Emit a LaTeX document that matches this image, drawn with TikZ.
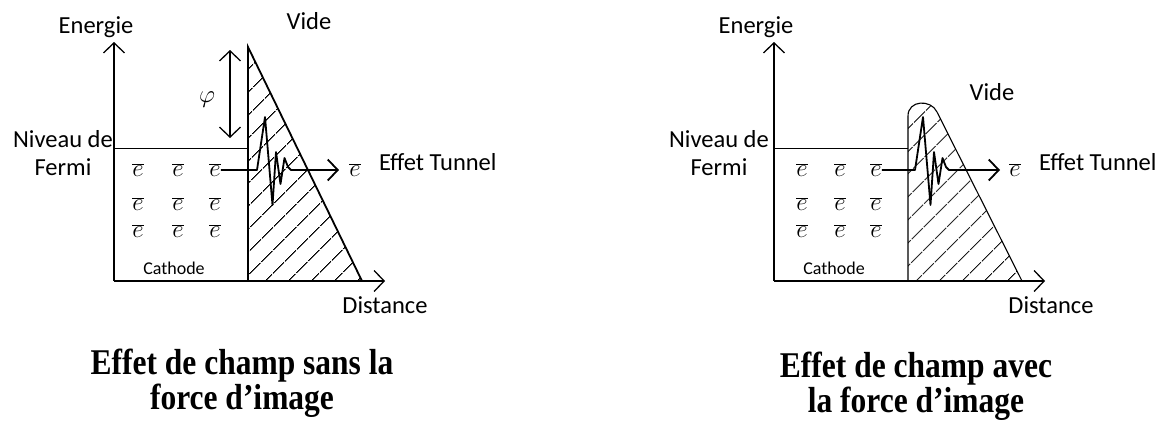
\documentclass[tikz,border=0pt]{standalone}
\usepackage{fontspec}
\setmainfont{Carlito}
\newfontfamily\titrefont{Liberation Serif}
\usepackage{graphicx}
\usepackage{tikz}
\usetikzlibrary{positioning,arrows.meta,patterns.meta}

\tikzset{
	axe/.style={line width=1.3pt,-{Straight Barb[length=10pt,width=21pt]}},
	phi/.style={line width=1.3pt,{Straight Barb[length=10pt,width=21pt]}-{Straight Barb[length=10pt,width=21pt]}},
	tunnel/.style={line width=1.8pt,line join=round,-{Straight Barb[length=10pt,width=21pt]}},
	fermi/.style={line width=0.9pt},
	hachures/.style={pattern={Lines[angle=45,distance=17pt,line width=1.2pt]}},
	txt/.style={font=\fontsize{24.5}{28.5}\selectfont,inner sep=0pt},
	cath/.style={font=\fontsize{18}{21}\selectfont,inner sep=0pt},
	el/.style={font=\fontsize{25}{28}\selectfont,inner sep=0pt},
	titre/.style={font=\titrefont\bfseries\fontsize{31.5}{35}\selectfont,inner sep=0pt,anchor=base},
}

\begin{document}
\begin{tikzpicture}[x=1pt,y=-1pt]
	\useasboundingbox (0,0) rectangle (1173,421);
	%% fig a : sans force d'image
	\coordinate (o1) at (114,281);
	\coordinate (y1) at (114,42);
	\coordinate (x1) at (385,281);
	\coordinate (fl1) at (114,148);
	\coordinate (f1) at (248,148);
	\coordinate (w1) at (248,47);
	\coordinate (b1) at (248,281);
	\coordinate (t1) at (362,281);
	\coordinate (p1a) at (230,50);
	\coordinate (p1b) at (230,138);
	\coordinate (z1) at (257,170);
	\coordinate (s1) at (339,170);
	% barriere triangulaire
	\fill[hachures] (w1) -- (t1) -- (b1) -- cycle;
	\draw[line width=1.8pt] (b1) -- (w1) -- (t1);
	\draw[fermi] (fl1) -- (f1);
	\draw[axe] (o1) -- (y1);
	\draw[axe] (o1) -- (x1);
	\draw[phi] (p1a) -- (p1b);
	\node[el,font=\fontsize{29}{32}\selectfont] (ph1) at (207,100) {$\varphi$};
	% electrons
	\node[el] (e11) at (138,170) {$\overline{e}$};
	\node[el] (e12) at (178,170) {$\overline{e}$};
	\node[el] (e13) at (215,170) {$\overline{e}$};
	\node[el] (e21) at (138,204) {$\overline{e}$};
	\node[el] (e22) at (178,204) {$\overline{e}$};
	\node[el] (e23) at (215,204) {$\overline{e}$};
	\node[el] (e31) at (138,231) {$\overline{e}$};
	\node[el] (e32) at (178,231) {$\overline{e}$};
	\node[el] (e33) at (215,231) {$\overline{e}$};
	\node[el] (eo1) at (355,170) {$\overline{e}$};
	% textes
	\node[txt,above left=9pt and 18pt of y1,anchor=base] (en1) {Energie};
	\node[txt,anchor=base] (vi1) at (309,29) {Vide};
	\node[txt,align=center,anchor=east] (ni1) at (113,153) {Niveau de\\Fermi};
	\node[txt,below=32pt of x1,anchor=base] (di1) {Distance};
	\node[cath,anchor=base] (ca1) at (174,274) {Cathode};
	\node[txt,right=18pt of eo1,anchor=base west] (ef1) {Effet Tunnel};
	% effet tunnel
	\draw[tunnel] (e13.east) -- (z1) -- ++(8,-53) -- ++(7.5,88) -- ++(3.5,-53) -- ++(4.5,32)
		-- ++(4,-26) -- ++(3.5,9) -- ++(3,3) -- (s1);
	\node[titre] (ti1a) at (242,374) {\scalebox{1}[1.15]{Effet de champ sans la}};
	\node[titre] (ti1b) at (242,409) {\scalebox{1}[1.15]{force d’image}};

	%% fig b : avec force d'image
	\coordinate (o2) at (774,281);
	\coordinate (y2) at (774,42);
	\coordinate (x2) at (1045,281);
	\coordinate (fl2) at (774,148);
	\coordinate (f2) at (908,148);
	\coordinate (w2) at (908,116);
	\coordinate (c2) at (937,112);
	\coordinate (b2) at (908,281);
	\coordinate (t2) at (1022,281);
	\coordinate (z2) at (915,170);
	\coordinate (s2) at (1000,170);
	% barriere arrondie
	\fill[hachures] (b2) -- (w2) .. controls (908,100) and (931,99) .. (c2) -- (t2) -- cycle;
	\draw[line width=1.1pt] (b2) -- (w2) .. controls (908,100) and (931,99) .. (c2) -- (t2);
	\draw[fermi] (fl2) -- (f2);
	\draw[axe] (o2) -- (y2);
	\draw[axe] (o2) -- (x2);
	% electrons
	\node[el] (f11) at (802,170) {$\overline{e}$};
	\node[el] (f12) at (840,170) {$\overline{e}$};
	\node[el] (f13) at (876,170) {$\overline{e}$};
	\node[el] (f21) at (802,204) {$\overline{e}$};
	\node[el] (f22) at (840,204) {$\overline{e}$};
	\node[el] (f23) at (876,204) {$\overline{e}$};
	\node[el] (f31) at (802,231) {$\overline{e}$};
	\node[el] (f32) at (840,231) {$\overline{e}$};
	\node[el] (f33) at (876,231) {$\overline{e}$};
	\node[el] (eo2) at (1015,170) {$\overline{e}$};
	% textes
	\node[txt,above left=9pt and 18pt of y2,anchor=base] (en2) {Energie};
	\node[txt,anchor=base] (vi2) at (992,100) {Vide};
	\node[txt,align=center,anchor=east] (ni2) at (769,153) {Niveau de\\Fermi};
	\node[txt,below=32pt of x2,anchor=base,xshift=6pt] (di2) {Distance};
	\node[cath,anchor=base] (ca2) at (834,274) {Cathode};
	\node[txt,right=18pt of eo2,anchor=base west] (ef2) {Effet Tunnel};
	% effet tunnel
	\draw[tunnel] (f13.east) -- (z2) -- ++(8,-53) -- ++(7.5,88) -- ++(3.5,-53) -- ++(4.5,32)
		-- ++(4,-26) -- ++(3.5,9) -- ++(3,3) -- (s2);
	\node[titre] (ti2a) at (916,377) {\scalebox{1}[1.15]{Effet de champ avec}};
	\node[titre] (ti2b) at (916,412.5) {\scalebox{1}[1.15]{la force d’image}};
\end{tikzpicture}
\end{document}
